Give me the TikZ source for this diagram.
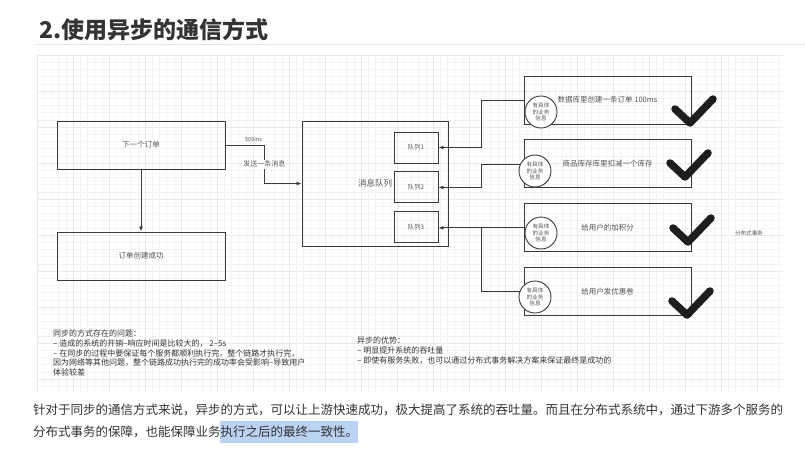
\documentclass[tikz,border=0pt]{standalone}
\usepackage{fontspec}
\setmainfont{Noto Sans CJK SC}
\usepackage{xcolor}
\usetikzlibrary{positioning, arrows.meta}

\definecolor{inkgray}{HTML}{333333}
\definecolor{boxgray}{HTML}{3A3A3A}
\definecolor{labelgray}{HTML}{555555}
\definecolor{tickblack}{HTML}{1E1E1E}
\definecolor{minorgrid}{HTML}{F4F4F4}
\definecolor{majorgrid}{HTML}{E9E9E9}
\definecolor{selblue}{HTML}{BBD3F2}

\begin{document}
\begin{tikzpicture}[
    x=1pt, y=-1pt,
    box/.style={rectangle, draw=boxgray, line width=0.95pt, minimum width=168pt, minimum height=48pt, text=labelgray, font=\fontsize{7.5}{9}\selectfont},
    queue/.style={box, minimum width=44pt, minimum height=31pt, font=\fontsize{6.3}{7}\selectfont},
    task/.style={box, minimum width=167pt},
    info/.style={circle, draw=boxgray, line width=0.9pt, fill=white, minimum size=32pt, inner sep=0pt, align=center, text=labelgray, font=\fontsize{5.6}{6.6}\selectfont},
    link/.style={draw=boxgray, line width=0.85pt},
    arrow/.style={link, -{Latex[length=5pt, width=4pt]}},
    tick/.style={draw=tickblack, line width=7.5pt, line cap=round, line join=round},
    note/.style={anchor=north west, align=left, inner sep=0pt, text=inkgray, font=\fontsize{8}{9.6}\selectfont}
]
    \useasboundingbox (0,0) rectangle (805,452);

    % Title
    \node (title) [anchor=west, text=inkgray, font=\fontsize{23}{26}\selectfont\bfseries] at (36,30) {2.使用异步的通信方式};
    \draw [gray!20, line width=0.8pt] (35,44) -- (805,44);

    % Grid paper
    \foreach \gx in {37,44.2,...,784} \draw [minorgrid, line width=0.6pt] (\gx,55) -- (\gx,392);
    \foreach \gy in {55,62.2,...,392} \draw [minorgrid, line width=0.6pt] (37,\gy) -- (783,\gy);
    \foreach \gx in {37,73,...,784} \draw [majorgrid, line width=0.6pt] (\gx,55) -- (\gx,392);
    \foreach \gy in {55,91,...,392} \draw [majorgrid, line width=0.6pt] (37,\gy) -- (783,\gy);

    % Order side
    \node (order) [box] at (141,145) {下一个订单};
    \node (done)  [box] at (141,256) {订单创建成功};

    % Message queue
    \node (mq) [box, minimum width=146pt, minimum height=125pt, font=\fontsize{8.5}{10}\selectfont] at (375,183.5) {消息队列};
    \node (q1) [queue] at (416,147.5) {队列1};
    \node (q2) [queue, below=8pt of q1] {队列2};
    \node (q3) [queue, below=8pt of q2] {队列3};

    % Downstream services
    \node (t1) [task] at (607.5,100) {数据库里创建一条订单 100ms};
    \node (t2) [task, below=15pt of t1] {商品库存库里扣减一个库存};
    \node (t3) [task, below=15pt of t2] {给用户的加积分};
    \node (t4) [task, below=15pt of t3] {给用户发优惠卷};

    % Connectors
    \draw [arrow] (order.south) -- (done.north);
    \draw [arrow] (order.east) -- ++(39,0)
        node [pos=0.72, above=-0.5pt, text=labelgray, font=\fontsize{5.5}{6}\selectfont] {500ms}
        |- node [pos=0.25, fill=white, inner sep=1pt, text=labelgray, font=\fontsize{7}{8}\selectfont] {发送一条消息} (mq.west);
    \draw [arrow] (t1.west) -- ++(-42,0) |- (q1.east);
    \draw [arrow] (t2.west) -- ++(-42,0) |- (q2.east);
    \draw [arrow] (t3.west) -- (q3.east |- t3.west);
    \draw [link]  (t4.west) -- ++(-42,0) coordinate (join) -- (join |- t3.west);

    % Business info bubbles
    \node (c1) [info] at (541,112) {有具体\\的业务\\信息};
    \node (c2) [info] at (535,171) {有具体\\的业务\\信息};
    \node (c3) [info] at (541,233) {有具体\\的业务\\信息};
    \node (c4) [info] at (535,297) {有具体\\的业务\\信息};

    % Check marks
    \foreach \cx/\cy in {690/123, 685/177, 688/242, 687/315}
        \draw [tick] (\cx-15,\cy-14) -- (\cx,\cy) -- (\cx+23,\cy-24);

    \node (dtx) [text=labelgray, font=\fontsize{5.6}{6}\selectfont] at (749,233) {分布式事务};

    % Notes
    \node (issues) [note] at (53,330) {同步的方式存在的问题：\\– 造成的系统的开销–响应时间是比较大的，  2–5s\\– 在同步的过程中要保证每个服务都顺利执行完，整个链路才执行完，\\因为网络等其他问题，整个链路成功执行完的成功率会受影响–导致用户\\体验较差};
    \node (gains) [note] at (357,337) {异步的优势：\\– 明显提升系统的吞吐量\\– 即使有服务失败，也可以通过分布式事务解决方案来保证最终是成功的};

    % Summary paragraph
    \fill [selblue] (220,421) rectangle (358,443);
    \node (summary) [note, font=\fontsize{12.5}{22}\selectfont] at (33,404) {针对于同步的通信方式来说，异步的方式，可以让上游快速成功，极大提高了系统的吞吐量。而且在分布式系统中，通过下游多个服务的\\分布式事务的保障，也能保障业务执行之后的最终一致性。};
\end{tikzpicture}
\end{document}
